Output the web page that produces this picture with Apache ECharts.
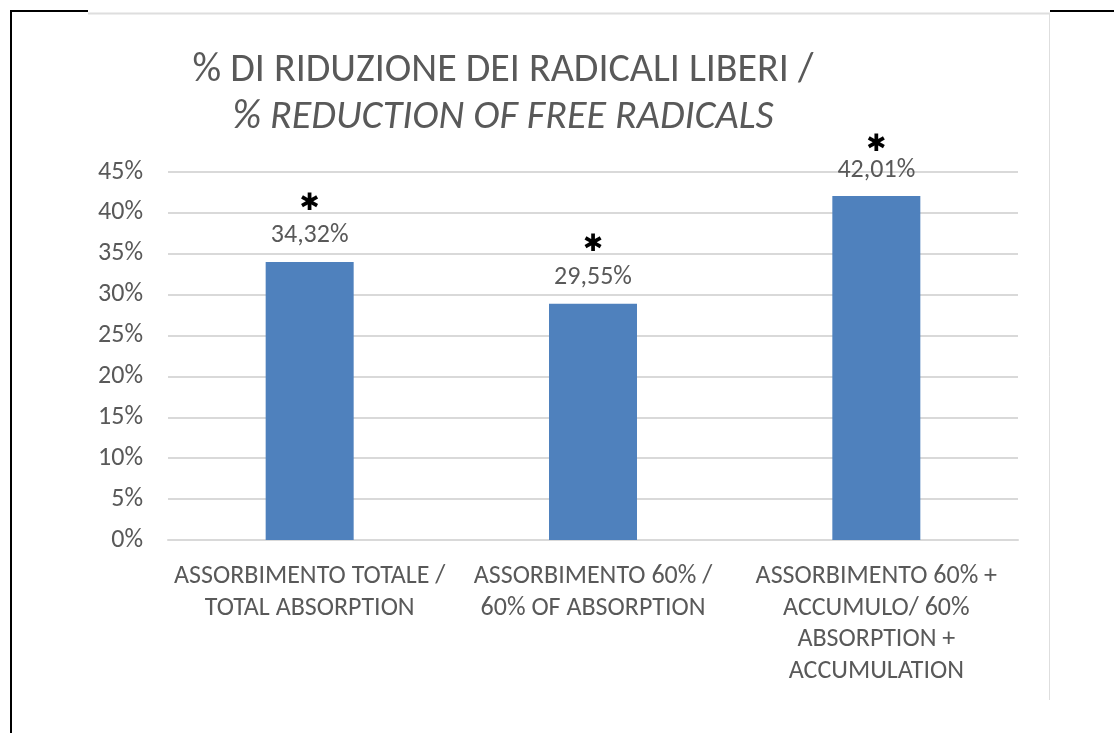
<!DOCTYPE html>
<html>
<head>
<meta charset="utf-8">
<script src="https://cdn.jsdelivr.net/npm/echarts@6/dist/echarts.min.js"></script>
<style>
  html, body { margin: 0; padding: 0; background: #fff; }
  #chart { width: 1114px; height: 733px; }
</style>
</head>
<body>
<div id="chart"></div>
<script>
// dati
var categories = [
    'ASSORBIMENTO TOTALE /\nTOTAL ABSORPTION',
    'ASSORBIMENTO 60% /\n60% OF ABSORPTION',
    'ASSORBIMENTO 60% +\nACCUMULO/ 60%\nABSORPTION +\nACCUMULATION'
]
var values = [34.0, 28.9, 42.05]
var valueLabels = ['34,32%', '29,55%', '42,01%']
var yTicks = [0, 5, 10, 15, 20, 25, 30, 35, 40, 45]

var font = 'Carlito, Lato, "Open Sans", sans-serif'
var grey = '#595959'

var chart = echarts.init(document.getElementById('chart'))

// asterisco piu vicino per la terza barra
var starGap = [36, 38, 22]

var option = {
    backgroundColor: '#fff',
    animation: false,
    title: {
        text: '{a|% DI RIDUZIONE DEI RADICALI LIBERI /}\n{b|% REDUCTION OF FREE RADICALS}',
        left: 498,
        top: 42,
        textAlign: 'center',
        textStyle: {
            fontWeight: 'normal',
            rich: {
                a: { fontFamily: font, fontSize: 40, fontWeight: 'normal', color: grey, lineHeight: 47 },
                b: { fontFamily: font, fontSize: 40, fontWeight: 'normal', color: grey, fontStyle: 'italic', lineHeight: 47 }
            }
        }
    },
    grid: {
        left: 168,
        right: 96,
        top: 172,
        bottom: 193
    },
    xAxis: {
        type: 'category',
        data: categories,
        axisLine: { show: true, lineStyle: { color: '#d9d9d9', width: 2 } },
        axisTick: { show: false },
        axisLabel: {
            interval: 0,
            margin: 21,
            color: grey,
            fontFamily: font,
            fontSize: 26,
            lineHeight: 31.5,
            align: 'center'
        }
    },
    yAxis: {
        type: 'value',
        min: yTicks[0],
        max: yTicks[yTicks.length - 1],
        interval: 5,
        axisLine: { show: false },
        axisTick: { show: false },
        splitLine: { lineStyle: { color: '#d9d9d9', width: 2 } },
        axisLabel: {
            margin: 25,
            color: grey,
            fontFamily: font,
            fontSize: 26,
            formatter: '{value}%'
        }
    },
    series: [
        {
            type: 'bar',
            data: values.map(function (v, i) {
                return {
                    value: v,
                    label: {
                        rich: {
                            s: { fontFamily: 'DejaVu Sans', fontSize: 24, color: '#000', lineHeight: starGap[i] }
                        }
                    }
                }
            }),
            barWidth: 88,
            itemStyle: { color: '#4f81bd' },
            label: {
                show: true,
                position: 'top',
                distance: 12,
                formatter: function (p) {
                    return '{s|\u2731}\n{v|' + valueLabels[p.dataIndex] + '}'
                },
                rich: {
                    s: { fontFamily: 'DejaVu Sans', fontSize: 24, color: '#000', lineHeight: 36 },
                    v: { fontFamily: font, fontSize: 26, color: grey, lineHeight: 28 }
                }
            }
        }
    ],
    graphic: [
        // cornice
        { type: 'line', shape: { x1: 11, y1: 11, x2: 11, y2: 733 }, style: { stroke: '#000', lineWidth: 2 } },
        { type: 'line', shape: { x1: 10, y1: 11, x2: 88, y2: 11 }, style: { stroke: '#000', lineWidth: 2 } },
        { type: 'line', shape: { x1: 88, y1: 13.5, x2: 1050, y2: 13.5 }, style: { stroke: '#dedede', lineWidth: 2 } },
        { type: 'line', shape: { x1: 1050, y1: 11, x2: 1114, y2: 11 }, style: { stroke: '#000', lineWidth: 2 } },
        { type: 'line', shape: { x1: 1049.5, y1: 13, x2: 1049.5, y2: 700 }, style: { stroke: '#dedede', lineWidth: 1 } }
    ]
}

chart.setOption(option)
</script>
</body>
</html>
